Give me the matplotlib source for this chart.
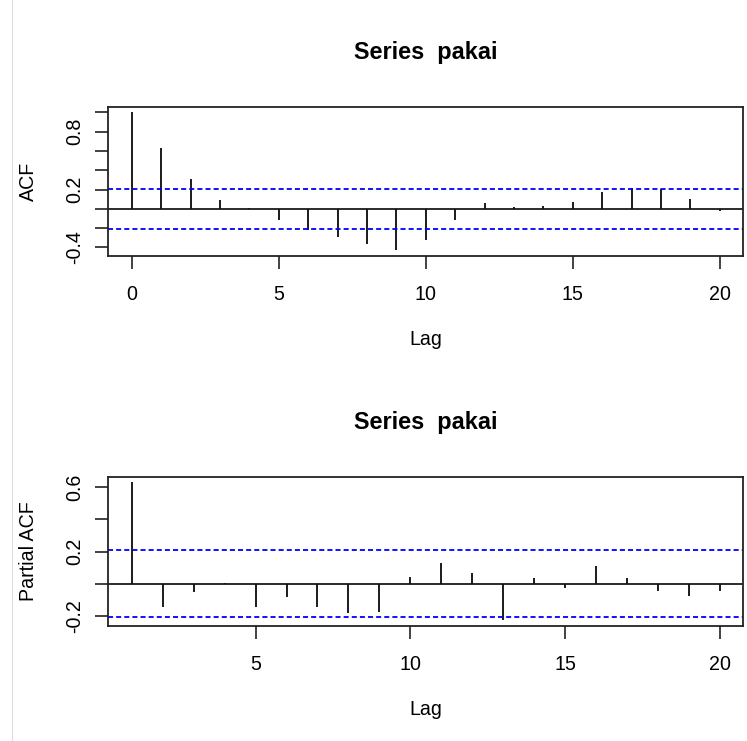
import matplotlib
matplotlib.use("Agg")
import matplotlib.pyplot as plt
from matplotlib.lines import Line2D

plt.rcParams['font.family'] = ['Liberation Sans', 'DejaVu Sans']

# ---- data ----
title = "Series  pakai"
acf_lags = [0, 1, 2, 3, 4, 5, 6, 7, 8, 9, 10, 11, 12, 13, 14, 15, 16, 17, 18, 19, 20]
acf_vals = [1.0, 0.632, 0.312, 0.096, 0.005, -0.12, -0.22, -0.287, -0.363, -0.428,
            -0.325, -0.118, 0.065, 0.02, 0.03, 0.07, 0.17, 0.22, 0.205, 0.105, -0.02]
pacf_lags = [1, 2, 3, 4, 5, 6, 7, 8, 9, 10, 11, 12, 13, 14, 15, 16, 17, 18, 19, 20]
pacf_vals = [0.631, -0.148, -0.051, 0.003, -0.148, -0.082, -0.144, -0.181, -0.175, 0.04,
             0.126, 0.064, -0.229, 0.033, -0.029, 0.11, 0.033, -0.043, -0.074, -0.043]
clim = 0.21
acf_yticks = [-0.4, -0.2, 0.0, 0.2, 0.4, 0.6, 0.8, 1.0]
acf_ylabels = ["-0.4", "", "", "0.2", "", "", "0.8", ""]
acf_xticks = [0, 5, 10, 15, 20]
pacf_yticks = [-0.2, 0.0, 0.2, 0.4, 0.6]
pacf_ylabels = ["-0.2", "", "0.2", "", "0.6"]
pacf_xticks = [5, 10, 15, 20]

W, H = 747, 741
fig = plt.figure(figsize=(W / 100, H / 100), dpi=100)
fig.patch.set_facecolor("white")

# faint screenshot border line at left
fig.add_artist(Line2D([11.5 / W, 11.5 / W], [0, 1], color="#dcdcdc", lw=0.8))

FS = 14.1
TFS = 16.9


def rext(lo, hi):
    r = hi - lo
    return lo - 0.04 * r, hi + 0.04 * r


def panel(rect, lags, vals, ylab, yticks, ylabels, xticks):
    ax = fig.add_axes(rect)
    ax.vlines(lags, 0, vals, colors="black", lw=1.25)
    ax.axhline(0, color="#111111", lw=1.25)
    for c in (clim, -clim):
        ax.axhline(c, color="blue", lw=1.3, linestyle=(0, (2.8, 1.7)))
    ax.set_xlim(*rext(min(lags), max(lags)))
    ax.set_ylim(*rext(min(min(vals), -clim), max(max(vals), clim)))
    ax.set_xticks(xticks)
    ax.set_xticklabels([str(t) for t in xticks])
    ax.set_yticks(yticks)
    ax.set_yticklabels(ylabels, rotation=90, va="center")
    ax.tick_params(axis="both", direction="out", length=9.4, width=1.2,
                   color="#222222", labelsize=FS, labelcolor="black")
    ax.tick_params(axis="x", pad=11.5)
    ax.tick_params(axis="y", pad=7.8)
    for s in ax.spines.values():
        s.set_color("#222222")
        s.set_linewidth(1.3)
    ax.set_title(title, fontsize=TFS, fontweight="bold", pad=34.3)
    ax.set_xlabel("Lag", fontsize=FS)
    ax.xaxis.label.set_va("baseline")
    ax.xaxis.set_label_coords(0.5, -89.3 / 149.0)
    ax.set_ylabel(ylab, fontsize=FS)
    ax.yaxis.label.set_va("baseline")
    ax.yaxis.set_label_coords(-74.3 / 635.0, 0.5)
    return ax


panel([108.3 / W, 1 - 255.7 / H, 635 / W, 149 / H], acf_lags, acf_vals, "ACF",
      acf_yticks, acf_ylabels, acf_xticks)
panel([108.3 / W, 1 - 626 / H, 635 / W, 149.3 / H], pacf_lags, pacf_vals, "Partial ACF",
      pacf_yticks, pacf_ylabels, pacf_xticks)

fig.savefig("out.png", dpi=100, facecolor="white")
